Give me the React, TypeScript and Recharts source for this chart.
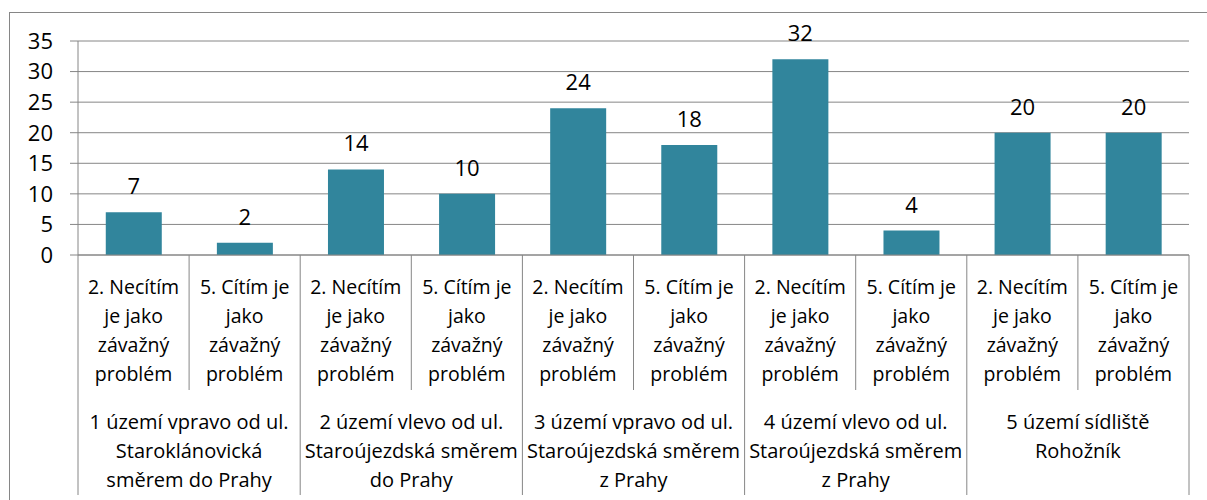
import { Bar, BarChart, CartesianGrid, LabelList, XAxis, YAxis } from "recharts";

const groups = [
  ["1 území vpravo od ul.", "Staroklánovická", "směrem do Prahy"],
  ["2 území vlevo od ul.", "Staroújezdská směrem", "do Prahy"],
  ["3 území vpravo od ul.", "Staroújezdská směrem", "z Prahy"],
  ["4 území vlevo od ul.", "Staroújezdská směrem", "z Prahy"],
  ["5 území sídliště", "Rohožník"],
];
const answers = [
  ["2. Necítím", "je jako", "závažný", "problém"],
  ["5. Cítím je", "jako", "závažný", "problém"],
];
const counts = [7, 2, 14, 10, 24, 18, 32, 4, 20, 20];
const yTicks = [0, 5, 10, 15, 20, 25, 30, 35];

const data = counts.map((v, i) => ({
  key: `g${Math.floor(i / 2)}a${i % 2}`,
  group: Math.floor(i / 2),
  answer: i % 2,
  value: v,
}));

const W = 1207;
const H = 500;
const PLOT_LEFT = 78;
const PLOT_RIGHT = 1189;
const PLOT_TOP = 41;
const PLOT_BOTTOM = 255;
const CAT_W = (PLOT_RIGHT - PLOT_LEFT) / data.length;
const LINE = "#868686";
const FONT = "'Open Sans', sans-serif";

function CategoryTick(props: any) {
  const { x, index } = props;
  const d = data[index];
  if (!d) return null;
  const left = x - CAT_W / 2;
  const groupStart = d.answer === 0;
  return (
    <g>
      <line x1={left} x2={left} y1={PLOT_BOTTOM} y2={groupStart ? 495 : 390} stroke={LINE} strokeWidth={1} />
      {index === data.length - 1 && (
        <line x1={left + CAT_W} x2={left + CAT_W} y1={PLOT_BOTTOM} y2={495} stroke={LINE} strokeWidth={1} />
      )}
      {answers[d.answer].map((t, i) => (
        <text key={i} x={x} y={294 + i * 29} textAnchor="middle" fontSize={19.5} fill="#000" fontFamily={FONT}>
          {t}
        </text>
      ))}
      {groupStart &&
        groups[d.group].map((t, i) => (
          <text key={"g" + i} x={x + CAT_W / 2} y={429 + i * 29} textAnchor="middle" fontSize={20} fill="#000" fontFamily={FONT}>
            {t}
          </text>
        ))}
    </g>
  );
}

export default function App() {
  return (
    <div style={{ position: "absolute", left: 0, top: 0, width: W, height: H, background: "#fff" }}>
      <svg width={W} height={H} style={{ position: "absolute", left: 0, top: 0 }}>
        <rect x={9.5} y={12.5} width={W + 10} height={H + 10} fill="none" stroke={LINE} strokeWidth={1} />
      </svg>
      <div style={{ position: "absolute", left: 0, top: 0 }}>
        <BarChart
          width={W}
          height={H}
          data={data}
          margin={{ top: PLOT_TOP, right: W - PLOT_RIGHT, bottom: 0, left: PLOT_LEFT - 70 }}
          barCategoryGap="25%"
        >
          <CartesianGrid horizontal vertical={false} stroke={LINE} strokeWidth={1} />
          <XAxis
            dataKey="key"
            height={H - PLOT_BOTTOM}
            interval={0}
            tickLine={false}
            axisLine={{ stroke: LINE, strokeWidth: 1 }}
            tick={<CategoryTick />}
          />
          <YAxis
            width={70}
            domain={[0, 35]}
            ticks={yTicks}
            interval={0}
            tickSize={8}
            tickMargin={17}
            axisLine={{ stroke: LINE, strokeWidth: 1 }}
            tickLine={{ stroke: LINE, strokeWidth: 1 }}
            tick={{ fill: "#000", fontSize: 22, fontFamily: FONT }}
          />
          <Bar dataKey="value" fill="#31859C" isAnimationActive={false}>
            <LabelList dataKey="value" position="top" offset={18} fill="#000" fontSize={22} fontFamily={FONT} />
          </Bar>
        </BarChart>
      </div>
    </div>
  );
}
